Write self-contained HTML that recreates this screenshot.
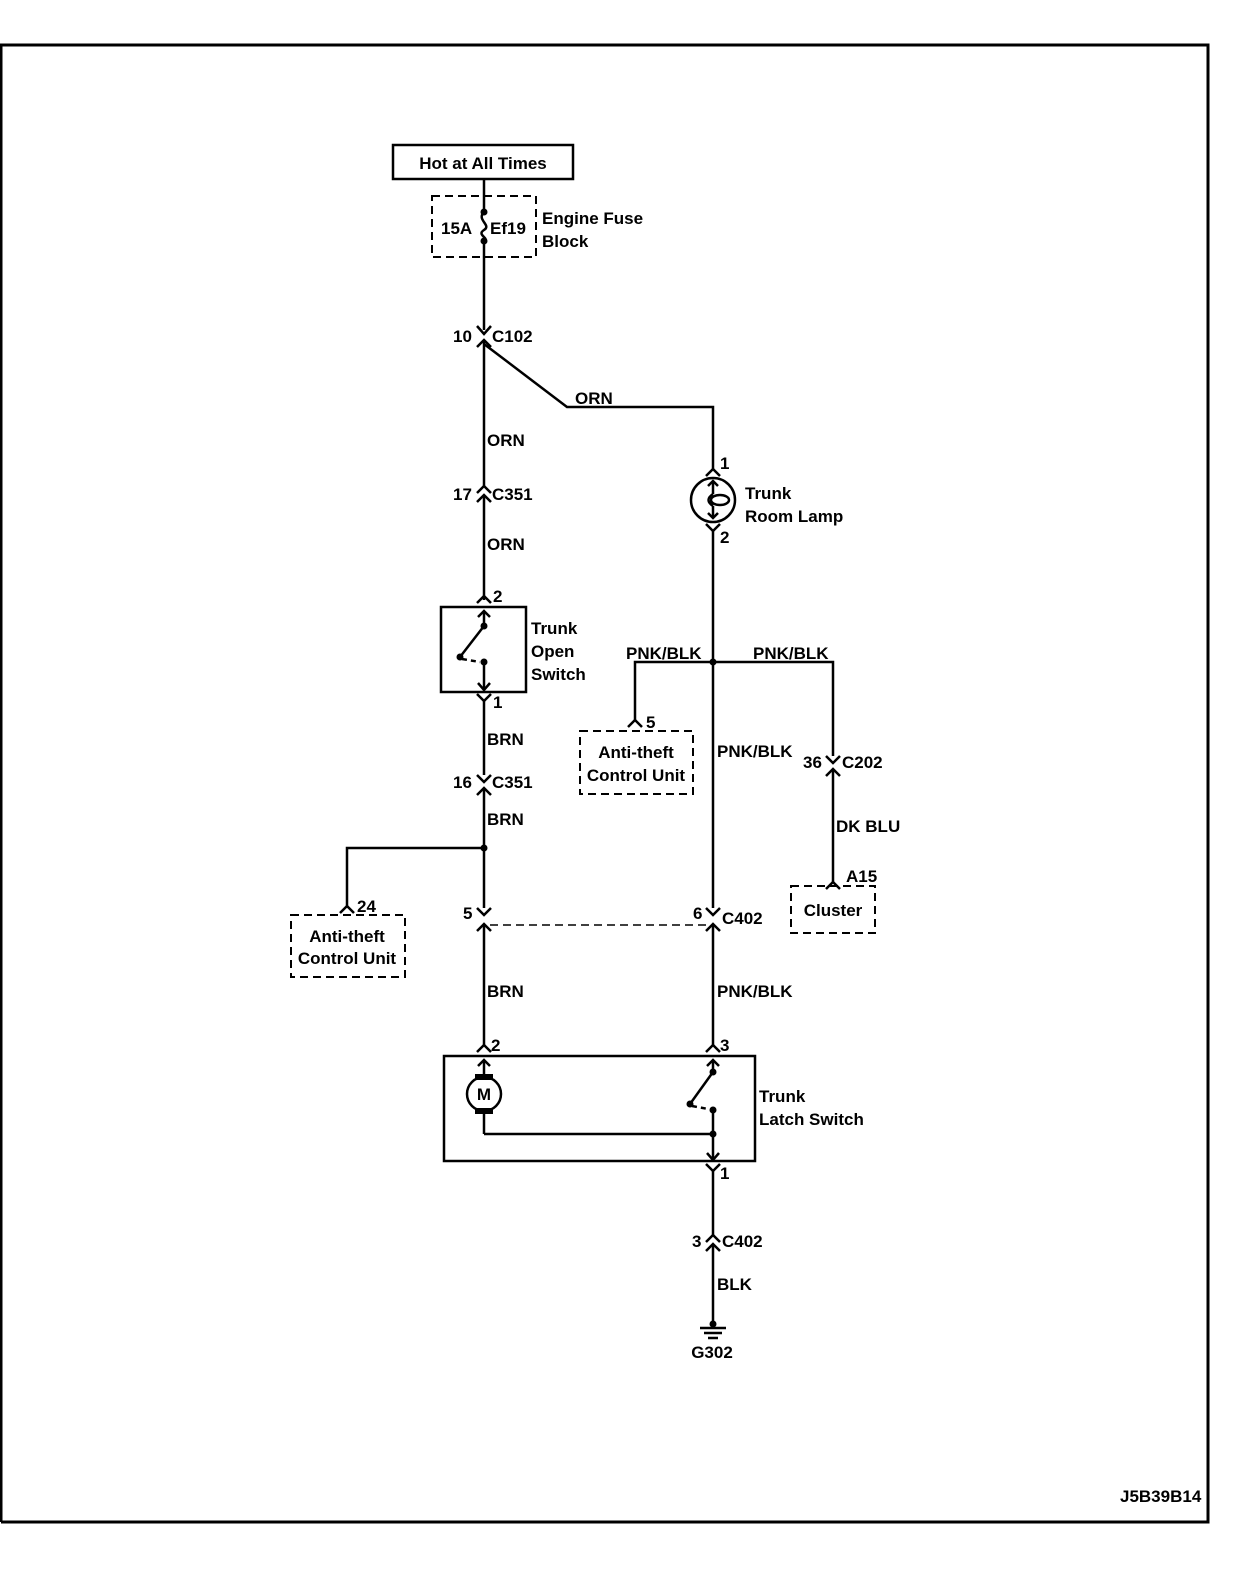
<!DOCTYPE html>
<html><head><meta charset="utf-8"><style>
html,body{margin:0;padding:0;background:#fff;}
svg{display:block;}
text{font-family:"Liberation Sans",Arial,sans-serif;font-weight:bold;font-size:17px;fill:#000;}
</style></head><body>
<svg width="1248" height="1584" viewBox="0 0 1248 1584" xmlns="http://www.w3.org/2000/svg">
<g fill="none" stroke="#000" stroke-width="2.5">
<!-- frame -->
<polyline points="1,1522 1,45 1208,45 1208,1522 1,1522" stroke-width="3"/>
<!-- hot box -->
<rect x="393" y="145" width="180" height="34" stroke-width="2.5"/>
<!-- fuse block -->
<rect x="432" y="196" width="104" height="61" stroke-dasharray="8,5" stroke-width="2"/>
<line x1="484" y1="179" x2="484" y2="212"/>
<path d="M484,212 C476,220 492,225 484,230 C476,235 490,238 484,241"/>
<line x1="484" y1="241" x2="484" y2="330"/>
<!-- C102 -->
<polyline points="477,326 484,334 491,326"/>
<polyline points="477,347 484,340 491,347"/>
<line x1="484" y1="340" x2="484" y2="487"/>
<polyline points="484,344 567,407 713,407 713,470"/>
<!-- C351 17 -->
<polyline points="477,493 484,486 491,493"/>
<polyline points="477,502 484,495 491,502"/>
<line x1="484" y1="495" x2="484" y2="600"/>
<!-- trunk open switch -->
<polyline points="477,603 484,596 491,603"/>
<rect x="441" y="607" width="85" height="85"/>
<polyline points="478,617 484,611 490,617"/>
<line x1="484" y1="611" x2="484" y2="626"/>
<line x1="484" y1="626" x2="460" y2="657"/>
<line x1="462" y1="659" x2="480" y2="662" stroke-dasharray="5,4"/>
<line x1="484" y1="662" x2="484" y2="690"/>
<polyline points="478,683 484,690 490,683"/>
<polyline points="477,694 484,701 491,694"/>
<line x1="484" y1="701" x2="484" y2="775"/>
<!-- C351 16 -->
<polyline points="477,775 484,782 491,775"/>
<polyline points="477,795 484,788 491,795"/>
<line x1="484" y1="788" x2="484" y2="908"/>
<polyline points="484,848 347,848 347,908"/>
<polyline points="340,913 347,906 354,913"/>
<rect x="291" y="915" width="114" height="62" stroke-dasharray="8,5" stroke-width="2"/>
<!-- C402 5 -->
<polyline points="477,908 484,915 491,908"/>
<polyline points="477,931 484,924 491,931"/>
<line x1="490" y1="925" x2="706" y2="925" stroke-dasharray="8,5" stroke-width="1.5"/>
<line x1="484" y1="924" x2="484" y2="1045"/>
<!-- latch switch -->
<polyline points="477,1052 484,1045 491,1052"/>
<rect x="444" y="1056" width="311" height="105"/>
<polyline points="478,1066 484,1060 490,1066"/>
<line x1="484" y1="1060" x2="484" y2="1076"/>
<circle cx="484" cy="1094" r="17"/>
<line x1="484" y1="1111" x2="484" y2="1134"/>
<polyline points="484,1134 713,1134"/>
<polyline points="707,1066 713,1060 719,1066"/>
<line x1="713" y1="1060" x2="713" y2="1072"/>
<line x1="713" y1="1072" x2="690" y2="1104"/>
<line x1="692" y1="1106" x2="708" y2="1109" stroke-dasharray="5,4"/>
<line x1="713" y1="1110" x2="713" y2="1160"/>
<polyline points="707,1153 713,1160 719,1153"/>
<polyline points="706,1164 713,1171 720,1164"/>
<line x1="713" y1="1171" x2="713" y2="1236"/>
<!-- C402 3 -->
<polyline points="706,1242 713,1235 720,1242"/>
<polyline points="706,1251 713,1244 720,1251"/>
<line x1="713" y1="1244" x2="713" y2="1325"/>
<line x1="700" y1="1328" x2="726" y2="1328"/>
<line x1="704" y1="1333" x2="722" y2="1333"/>
<line x1="708" y1="1338" x2="718" y2="1338"/>
<!-- right wire / lamp -->
<polyline points="706,476 713,469 720,476"/>
<circle cx="713" cy="500" r="22"/>
<polyline points="708,486 713,481 718,486"/>
<line x1="713" y1="481" x2="713" y2="494"/>
<path d="M713,494 C707,498 707,502 713,506"/>
<ellipse cx="720" cy="500" rx="9" ry="5"/>
<line x1="713" y1="506" x2="713" y2="518"/>
<polyline points="708,513 713,518 718,513"/>
<polyline points="706,524 713,531 720,524"/>
<line x1="713" y1="531" x2="713" y2="908"/>
<polyline points="635,720 635,662 833,662 833,756"/>
<polyline points="628,727 635,720 642,727"/>
<rect x="580" y="731" width="113" height="63" stroke-dasharray="8,5" stroke-width="2"/>
<polyline points="826,756 833,763 840,756"/>
<polyline points="826,776 833,769 840,776"/>
<line x1="833" y1="769" x2="833" y2="882"/>
<polyline points="826,889 833,882 840,889"/>
<rect x="791" y="886" width="84" height="47" stroke-dasharray="8,5" stroke-width="2"/>
<!-- C402 6 -->
<polyline points="706,908 713,915 720,908"/>
<polyline points="706,931 713,924 720,931"/>
<line x1="713" y1="924" x2="713" y2="1045"/>
<polyline points="706,1052 713,1045 720,1052"/>
</g>
<g fill="#000">
<circle cx="484" cy="212" r="3.5"/><circle cx="484" cy="241" r="3.5"/>
<circle cx="484" cy="626" r="3.5"/><circle cx="460" cy="657" r="3.5"/><circle cx="484" cy="662" r="3.5"/>
<circle cx="484" cy="848" r="3.5"/>
<circle cx="713" cy="662" r="3.5"/>
<circle cx="713" cy="1072" r="3.5"/><circle cx="690" cy="1104" r="3.5"/><circle cx="713" cy="1110" r="3.5"/><circle cx="713" cy="1134" r="3.5"/>
<circle cx="713" cy="1324" r="3.5"/>
<rect x="475" y="1074" width="18" height="6"/><rect x="475" y="1108" width="18" height="6"/>
</g>
<text x="483" y="169" text-anchor="middle">Hot at All Times</text>
<text x="441" y="234">15A</text>
<text x="490" y="234">Ef19</text>
<text x="542" y="224">Engine Fuse</text>
<text x="542" y="247">Block</text>
<text x="453" y="342">10</text><text x="492" y="342">C102</text>
<text x="575" y="404">ORN</text>
<text x="487" y="446">ORN</text>
<text x="453" y="500">17</text><text x="492" y="500">C351</text>
<text x="487" y="550">ORN</text>
<text x="493" y="602">2</text>
<text x="531" y="634">Trunk</text><text x="531" y="657">Open</text><text x="531" y="680">Switch</text>
<text x="493" y="708">1</text>
<text x="487" y="745">BRN</text>
<text x="453" y="788">16</text><text x="492" y="788">C351</text>
<text x="487" y="825">BRN</text>
<text x="357" y="912">24</text>
<text x="347" y="942" text-anchor="middle">Anti-theft</text>
<text x="347" y="964" text-anchor="middle">Control Unit</text>
<text x="463" y="919">5</text>
<text x="487" y="997">BRN</text>
<text x="491" y="1051">2</text>
<text x="484" y="1100" text-anchor="middle" font-size="14">M</text>
<text x="759" y="1102">Trunk</text><text x="759" y="1125">Latch Switch</text>
<text x="720" y="1051">3</text>
<text x="720" y="1179">1</text>
<text x="692" y="1247">3</text><text x="722" y="1247">C402</text>
<text x="717" y="1290">BLK</text>
<text x="712" y="1358" text-anchor="middle">G302</text>
<text x="720" y="469">1</text>
<text x="745" y="499">Trunk</text><text x="745" y="522">Room Lamp</text>
<text x="720" y="543">2</text>
<text x="626" y="659">PNK/BLK</text>
<text x="753" y="659">PNK/BLK</text>
<text x="646" y="728">5</text>
<text x="636" y="758" text-anchor="middle">Anti-theft</text>
<text x="636" y="781" text-anchor="middle">Control Unit</text>
<text x="717" y="757">PNK/BLK</text>
<text x="803" y="768">36</text><text x="842" y="768">C202</text>
<text x="836" y="832">DK BLU</text>
<text x="846" y="882">A15</text>
<text x="833" y="916" text-anchor="middle">Cluster</text>
<text x="693" y="919">6</text><text x="722" y="924">C402</text>
<text x="717" y="997">PNK/BLK</text>
<text x="1120" y="1502" font-size="12">J5B39B14</text>
</svg>
</body></html>
